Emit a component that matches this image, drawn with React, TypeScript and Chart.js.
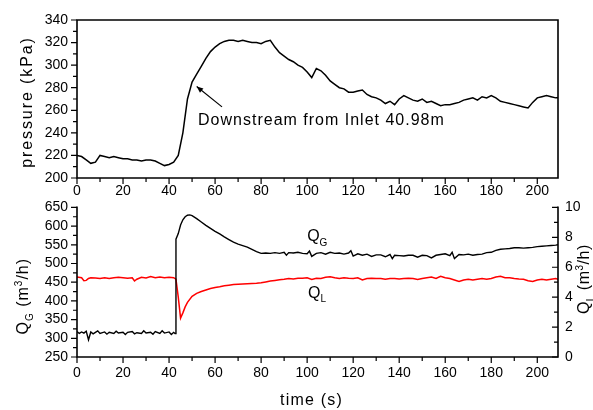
import React, { useEffect, useRef } from "react";
import { Chart, registerables } from "chart.js";
Chart.register(...registerables);

const FONT = "'Liberation Sans', Arial, Helvetica, sans-serif";

// ---------- top panel: pressure ----------
const pTime = [0,2,4,6,8,10,12,14,16,18,20,22,24,26,28,30,32,34,36,38,40,42,44,46,48,50,52,54,56,58,60,62,64,66,68,70,72,74,76,78,80,82,84,86,88,90,92,94,96,98,100,102,104,106,108,110,112,114,116,118,120,122,124,126,128,130,132,134,136,138,140,142,144,146,148,150,152,154,156,158,160,162,164,166,168,170,172,174,176,178,180,182,184,186,188,190,192,194,196,198,200,202,204,206,208,209];
const pressure = [220,219,216,213,214,220,219,218,219,218,217,217,216,216,215,216,216,215,213,211,212,214,220,240,270,285,292,299,306,312,316,319,321,322,322,321,322,321,320,320,319,321,322,316,311,308,305,303,300,298,294,289,297,295,291,286,283,280,279,276,276,277,278,274,272,271,269,266,268,265,270,273,271,269,268,270,267,268,266,264,265,265,266,267,269,270,271,269,272,271,273,271,268,267,266,265,264,263,262,267,271,272,273,272,271,271];

// ---------- bottom panel: Q_G (left axis, m3/h) ----------
const qgTime = [0,1,2,3,4,5,6,7,8,9,10,12,13,14,16,17,18,20,21,22,24,25,26,28,29,30,32,33,34,36,37,38,40,41,42,42.6,43,44,45,46,47,48,49,50,52,54,56,58,60,62,64,66,68,70,72,74,76,78,80,82,84,86,88,90,91,92,94,96,98,100,101,102,104,106,108,110,112,114,116,118,119,120,122,124,126,128,130,132,134,136,137,138,140,142,144,146,148,150,152,154,156,158,160,162,163,164,166,168,170,172,174,176,178,180,182,184,186,188,190,192,194,196,198,200,202,204,206,208,209];
const qg = [318,313,317,314,319,296,317,312,316,320,313,317,311,316,313,319,314,316,310,316,318,312,315,313,320,314,316,311,318,313,320,314,317,310,316,313,565,580,603,617,625,629,630,628,620,611,602,594,586,579,571,564,557,552,548,544,538,532,527,528,527,529,527,530,522,529,528,530,527,526,533,519,527,529,525,530,527,528,525,528,534,520,526,522,525,519,523,523,518,524,513,522,521,520,522,522,517,522,521,515,522,524,526,521,530,513,524,523,525,522,524,525,529,530,535,538,539,540,542,542,541,542,543,545,546,547,548,549,550];

// ---------- bottom panel: Q_L (right axis, m3/h) ----------
const qlTime = [0,2,3,4,5,6,8,10,12,14,16,18,20,22,24,25,26,28,30,32,34,36,38,40,42,43,44,45,46,47,48,50,52,54,56,58,60,62,64,66,68,70,72,74,76,78,80,82,84,86,88,90,92,94,96,98,100,102,104,106,108,110,112,114,116,118,120,122,124,126,128,130,132,134,136,138,140,142,144,146,148,150,152,154,156,158,160,162,164,166,168,170,172,174,176,178,180,182,184,186,188,190,192,194,196,198,200,202,204,206,208,209];
const ql = [5.35,5.3,5.1,5.12,5.25,5.3,5.28,5.25,5.3,5.25,5.3,5.33,5.3,5.27,5.3,5.08,5.2,5.33,5.28,5.38,5.3,5.35,5.3,5.33,5.3,5.2,4.0,2.6,2.95,3.35,3.65,4.05,4.25,4.38,4.48,4.58,4.65,4.7,4.76,4.8,4.84,4.86,4.88,4.9,4.92,4.93,4.96,5.02,5.08,5.12,5.16,5.2,5.25,5.22,5.27,5.26,5.3,5.18,5.27,5.25,5.33,5.36,5.3,5.25,5.3,5.27,5.25,5.3,5.15,5.25,5.27,5.25,5.25,5.2,5.25,5.25,5.22,5.25,5.27,5.25,5.18,5.25,5.3,5.35,5.25,5.4,5.3,5.25,5.15,5.05,5.15,5.2,5.15,5.2,5.25,5.2,5.25,5.35,5.4,5.3,5.3,5.25,5.22,5.2,5.1,5.05,5.15,5.2,5.15,5.2,5.25,5.2];

// ---------- ticks ----------
const xMajor = [0,20,40,60,80,100,120,140,160,180,200];
const xMinor = [10,30,50,70,90,110,130,150,170,190];
const pMajor = [200,220,240,260,280,300,320,340];
const pMinor = [210,230,250,270,290,310,330];
const qgMajor = [250,300,350,400,450,500,550,600,650];
const qgMinor = [275,325,375,425,475,525,575,625];
const qlMajor = [0,2,4,6,8,10];
const qlMinor = [1,3,5,7,9];

const X_MIN = 0, X_MAX = 209;
const P_MIN = 200, P_MAX = 340;
const QG_MIN = 250, QG_MAX = 650;
const QL_MIN = 0, QL_MAX = 10;

// annotation anchors in data units
const noteText = "Downstream from Inlet 40.98m";
const noteAt = { x: 52.6, y: 250.5 };
const arrowFrom = { x: 63, y: 263 };
const arrowTo = { x: 52, y: 281 };
const qgLabelAt = { x: 100, y: 571 };
const qlLabelAt = { x: 100.4, y: 4.27 };

type Part = { t: string; size: number; dy?: number };

function drawRich(ctx: CanvasRenderingContext2D, parts: Part[], x: number, y: number, rot: number, align: "left" | "center", spacing: number) {
  ctx.save();
  ctx.translate(x, y);
  ctx.rotate(rot);
  ctx.fillStyle = "#000";
  ctx.textBaseline = "middle";
  ctx.textAlign = "left";
  (ctx as any).letterSpacing = spacing + "px";
  let total = 0;
  const widths = parts.map((p) => {
    ctx.font = `${p.size}px ${FONT}`;
    const w = ctx.measureText(p.t).width;
    total += w;
    return w;
  });
  let cx = align === "center" ? -total / 2 : 0;
  parts.forEach((p, i) => {
    ctx.font = `${p.size}px ${FONT}`;
    ctx.fillText(p.t, cx, p.dy || 0);
    cx += widths[i];
  });
  ctx.restore();
}

type TickSpec = { id: string; side: "left" | "right" | "bottom"; major: number[]; minor: number[]; inward: boolean };

function makeFrame(sides: { left: boolean; right: boolean; top: boolean; bottom: boolean }, ticks: TickSpec[]) {
  return {
    id: "frame",
    afterDraw(chart: any) {
      const { ctx, chartArea: a } = chart;
      ctx.save();
      ctx.strokeStyle = "#000";
      ctx.lineWidth = 1.6;
      ctx.lineCap = "square";
      ctx.beginPath();
      if (sides.left) { ctx.moveTo(a.left, a.top); ctx.lineTo(a.left, a.bottom); }
      if (sides.bottom) { ctx.moveTo(a.left, a.bottom); ctx.lineTo(a.right, a.bottom); }
      if (sides.right) { ctx.moveTo(a.right, a.top); ctx.lineTo(a.right, a.bottom); }
      if (sides.top) { ctx.moveTo(a.left, a.top); ctx.lineTo(a.right, a.top); }
      ctx.stroke();
      ctx.lineWidth = 1.2;
      ctx.lineCap = "butt";
      ctx.beginPath();
      for (const t of ticks) {
        const s = chart.scales[t.id];
        const mark = (vals: number[], len: number) => {
          for (const v of vals) {
            const p = s.getPixelForValue(v);
            if (t.side === "bottom") {
              ctx.moveTo(p, a.bottom); ctx.lineTo(p, a.bottom + (t.inward ? -len : len));
            } else if (t.side === "left") {
              ctx.moveTo(a.left, p); ctx.lineTo(a.left + (t.inward ? len : -len), p);
            } else {
              ctx.moveTo(a.right, p); ctx.lineTo(a.right + (t.inward ? -len : len), p);
            }
          }
        };
        mark(t.major, 6);
        mark(t.minor, 4);
      }
      ctx.stroke();
      ctx.restore();
    },
  };
}

function tickFont() {
  return { size: 14, family: FONT };
}

function xScale(padding: number, height: number) {
  return {
    type: "linear",
    min: X_MIN,
    max: X_MAX,
    afterBuildTicks: (s: any) => { s.ticks = xMajor.map((v) => ({ value: v })); },
    afterFit: (s: any) => { s.height = height; },
    grid: { display: false, drawTicks: false },
    border: { display: false },
    ticks: { padding, color: "#000", font: tickFont(), maxRotation: 0, autoSkip: false },
  };
}

function yScale(position: string, min: number, max: number, major: number[], width: number, padding: number) {
  return {
    position,
    min,
    max,
    afterBuildTicks: (s: any) => { s.ticks = major.map((v) => ({ value: v })); },
    afterFit: (s: any) => { s.width = width; },
    grid: { display: false, drawTicks: false },
    border: { display: false },
    ticks: { padding, color: "#000", font: tickFont(), autoSkip: false },
  };
}

function topConfig(): any {
  const notes = {
    id: "notes",
    afterDraw(chart: any) {
      const { ctx } = chart;
      const xs = chart.scales.x, ys = chart.scales.y;
      const x1 = xs.getPixelForValue(arrowFrom.x), y1 = ys.getPixelForValue(arrowFrom.y);
      const x2 = xs.getPixelForValue(arrowTo.x), y2 = ys.getPixelForValue(arrowTo.y);
      ctx.save();
      ctx.strokeStyle = "#000";
      ctx.fillStyle = "#000";
      ctx.lineWidth = 1.2;
      ctx.beginPath(); ctx.moveTo(x1, y1); ctx.lineTo(x2, y2); ctx.stroke();
      const ang = Math.atan2(y2 - y1, x2 - x1);
      ctx.beginPath();
      ctx.moveTo(x2, y2);
      ctx.lineTo(x2 - 7 * Math.cos(ang - 0.4), y2 - 7 * Math.sin(ang - 0.4));
      ctx.lineTo(x2 - 7 * Math.cos(ang + 0.4), y2 - 7 * Math.sin(ang + 0.4));
      ctx.closePath(); ctx.fill();
      ctx.restore();
      drawRich(ctx, [{ t: noteText, size: 16 }], xs.getPixelForValue(noteAt.x), ys.getPixelForValue(noteAt.y), 0, "left", 1);
      const a = chart.chartArea;
      drawRich(ctx, [{ t: "pressure (kPa)", size: 16 }], a.left - 49, (a.top + a.bottom) / 2 + 3, -Math.PI / 2, "center", 1.9);
    },
  };
  return {
    type: "line",
    data: {
      datasets: [{
        data: pTime.map((t, i) => ({ x: t, y: pressure[i] })),
        borderColor: "#000",
        borderWidth: 1.5,
        pointRadius: 0,
        tension: 0,
      }],
    },
    options: {
      animation: false,
      responsive: false,
      maintainAspectRatio: false,
      layout: { padding: { left: 0, right: 35, top: 20, bottom: 0 } },
      plugins: { legend: { display: false }, tooltip: { enabled: false } },
      scales: {
        x: xScale(5, 27),
        y: yScale("left", P_MIN, P_MAX, pMajor, 77, 9),
      },
    },
    plugins: [
      makeFrame({ left: true, right: true, top: true, bottom: true }, [
        { id: "x", side: "bottom", major: xMajor, minor: xMinor, inward: false },
        { id: "y", side: "left", major: pMajor, minor: pMinor, inward: false },
      ]),
      notes,
    ],
  };
}

function botConfig(): any {
  const notes = {
    id: "notes",
    afterDraw(chart: any) {
      const { ctx } = chart;
      const xs = chart.scales.x, ys = chart.scales.y, y2 = chart.scales.y2;
      drawRich(ctx, [{ t: "Q", size: 16 }, { t: "G", size: 10, dy: 6 }], xs.getPixelForValue(qgLabelAt.x), ys.getPixelForValue(qgLabelAt.y), 0, "left", 0);
      drawRich(ctx, [{ t: "Q", size: 16 }, { t: "L", size: 10, dy: 6 }], xs.getPixelForValue(qlLabelAt.x), y2.getPixelForValue(qlLabelAt.y), 0, "left", 0);
      const a = chart.chartArea;
      const mid = (a.top + a.bottom) / 2;
      drawRich(ctx, [
        { t: "Q", size: 16 }, { t: "G", size: 10, dy: 6 }, { t: " (m", size: 16 }, { t: "3", size: 10, dy: -5 }, { t: "/h)", size: 16 },
      ], a.left - 53, mid + 14, -Math.PI / 2, "center", 1);
      drawRich(ctx, [
        { t: "Q", size: 16 }, { t: "L", size: 10, dy: 6 }, { t: " (m", size: 16 }, { t: "3", size: 10, dy: -5 }, { t: "/h)", size: 16 },
      ], a.right + 27, mid - 3, -Math.PI / 2, "center", 0.5);
      drawRich(ctx, [{ t: "time (s)", size: 16 }], (a.left + a.right) / 2 - 6, a.bottom + 44, 0, "center", 1.2);
    },
  };
  return {
    type: "line",
    data: {
      datasets: [
        {
          data: qgTime.map((t, i) => ({ x: t, y: qg[i] })),
          yAxisID: "y",
          borderColor: "#000",
          borderWidth: 1.4,
          pointRadius: 0,
          tension: 0,
        },
        {
          data: qlTime.map((t, i) => ({ x: t, y: ql[i] })),
          yAxisID: "y2",
          borderColor: "#ff0000",
          borderWidth: 1.5,
          pointRadius: 0,
          tension: 0,
        },
      ],
    },
    options: {
      animation: false,
      responsive: false,
      maintainAspectRatio: false,
      layout: { padding: { left: 0, right: 0, top: 10, bottom: 0 } },
      plugins: { legend: { display: false }, tooltip: { enabled: false } },
      scales: {
        x: xScale(8, 53),
        y: yScale("left", QG_MIN, QG_MAX, qgMajor, 77, 9),
        y2: yScale("right", QL_MIN, QL_MAX, qlMajor, 35, 7),
      },
    },
    plugins: [
      makeFrame({ left: true, right: true, top: false, bottom: true }, [
        { id: "x", side: "bottom", major: xMajor, minor: xMinor, inward: false },
        { id: "y", side: "left", major: qgMajor, minor: qgMinor, inward: false },
        { id: "y2", side: "right", major: qlMajor, minor: qlMinor, inward: true },
      ]),
      notes,
    ],
  };
}

export default function App() {
  const topRef = useRef<HTMLCanvasElement>(null);
  const botRef = useRef<HTMLCanvasElement>(null);
  useEffect(() => {
    const c1 = new Chart(topRef.current!, topConfig());
    const c2 = new Chart(botRef.current!, botConfig());
    return () => {
      c1.destroy();
      c2.destroy();
    };
  }, []);
  return (
    <div style={{ position: "absolute", left: 0, top: 0, width: 593, height: 410, background: "#fff", overflow: "hidden" }}>
      <canvas ref={topRef} width={593} height={205} style={{ position: "absolute", left: 0, top: 0, width: 593, height: 205 }} />
      <canvas ref={botRef} width={593} height={220} style={{ position: "absolute", left: 0, top: 190, width: 593, height: 220 }} />
    </div>
  );
}
